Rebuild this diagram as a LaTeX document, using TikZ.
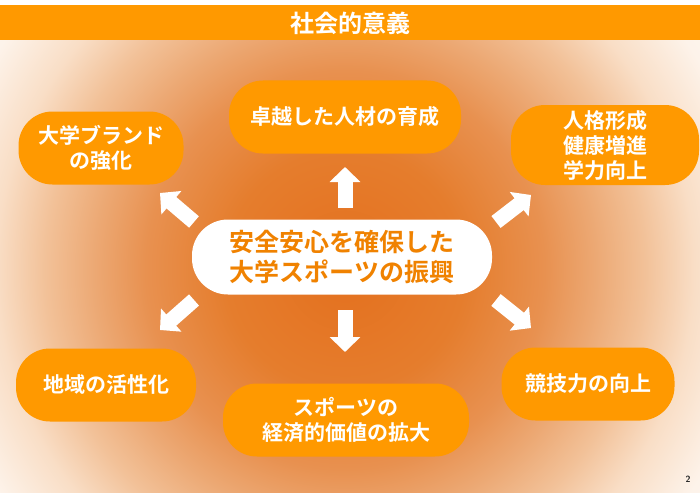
\documentclass[tikz,border=0pt]{standalone}
\usepackage{fontspec}
\newfontfamily\jpfont{Noto Sans CJK JP}[BoldFont={Noto Sans CJK JP Bold}]
\usepackage{xcolor}
\usetikzlibrary{arrows.meta, shapes}

\definecolor{pillorange}{RGB}{255,153,0}
\definecolor{textorange}{RGB}{240,130,0}
\definecolor{glow0}{RGB}{228,112,30}
\definecolor{glow1}{RGB}{229,125,45}
\definecolor{glow2}{RGB}{232,145,80}
\definecolor{glow3}{RGB}{236,168,115}
\definecolor{glow4}{RGB}{242,193,152}
\definecolor{glow5}{RGB}{249,222,198}
\definecolor{glow6}{RGB}{253,243,234}
\definecolor{glow7}{RGB}{254,249,244}
\pgfdeclareradialshading{glow}{\pgfpoint{0bp}{0bp}}{color(0bp)=(glow0); color(6.25bp)=(glow1); color(10.4bp)=(glow2); color(13bp)=(glow3); color(15.6bp)=(glow4); color(18.2bp)=(glow5); color(21.4bp)=(glow6); color(25bp)=(glow7); color(50bp)=(glow7)}

\begin{document}
\begin{tikzpicture}[x=1pt, y=-1pt,
    pill/.style={fill=pillorange, rounded corners=34pt, text=white, align=center, inner sep=0pt,
        font={\jpfont\bfseries\fontsize{21}{25}\selectfont}},
    bigarrow/.style={white, line width=15pt, -{Triangle[width=30pt,length=15pt]}}]
    \useasboundingbox (0,0) rectangle (700,492);

    % fond
    \fill[white] (0,0) rectangle (700,492);
    \begin{scope}
        \clip (0,40) rectangle (700,492);
        \shade[shading=glow] (345,270) circle[radius=480];
    \end{scope}

    % bandeau du titre
    \fill[pillorange] (0,5) rectangle (700,40);
    \node[text=white, font={\jpfont\bfseries\fontsize{24}{24}\selectfont}] (title) at (350,23) {社会的意義};

    % centre
    \node[fill=white, rounded corners=36pt, minimum width=300pt, minimum height=75pt, inner sep=0pt,
        text=textorange, align=center, font={\jpfont\bfseries\fontsize{25}{30}\selectfont}]
        (core) at (342,257) {安全安心を確保した\\大学スポーツの振興};

    % effets
    \node[pill, minimum width=232pt, minimum height=73pt] (talent) at (345,117) {卓越した人材の育成};
    \node[pill, minimum width=165pt, minimum height=73pt] (brand) at (101,148) {大学ブランド\\の強化};
    \node[pill, minimum width=188pt, minimum height=80pt] (growth) at (605,145) {人格形成\\健康増進\\学力向上};
    \node[pill, minimum width=180pt, minimum height=73pt] (region) at (106,385) {地域の活性化};
    \node[pill, minimum width=246pt, minimum height=73pt] (economy) at (346,420) {スポーツの\\経済的価値の拡大};
    \node[pill, minimum width=173pt, minimum height=73pt] (compete) at (588,384) {競技力の向上};

    % flèches
    \foreach \n/\tx/\ty/\hx/\hy in {up/345/208/345/167, dn/345/310/345/352,
        ul/194/222/160/193, ur/496/222/531/195, ll/194/300/160/330, lr/496/300/531/328}{
        \coordinate (\n tail) at (\tx,\ty);
        \coordinate (\n head) at (\hx,\hy);
        \draw[bigarrow] (\n tail) -- (\n head);
    }

    \node[text=black!85, font=\sffamily\bfseries\fontsize{9}{9}\selectfont] (pnum) at (688,479) {2};
\end{tikzpicture}
\end{document}
